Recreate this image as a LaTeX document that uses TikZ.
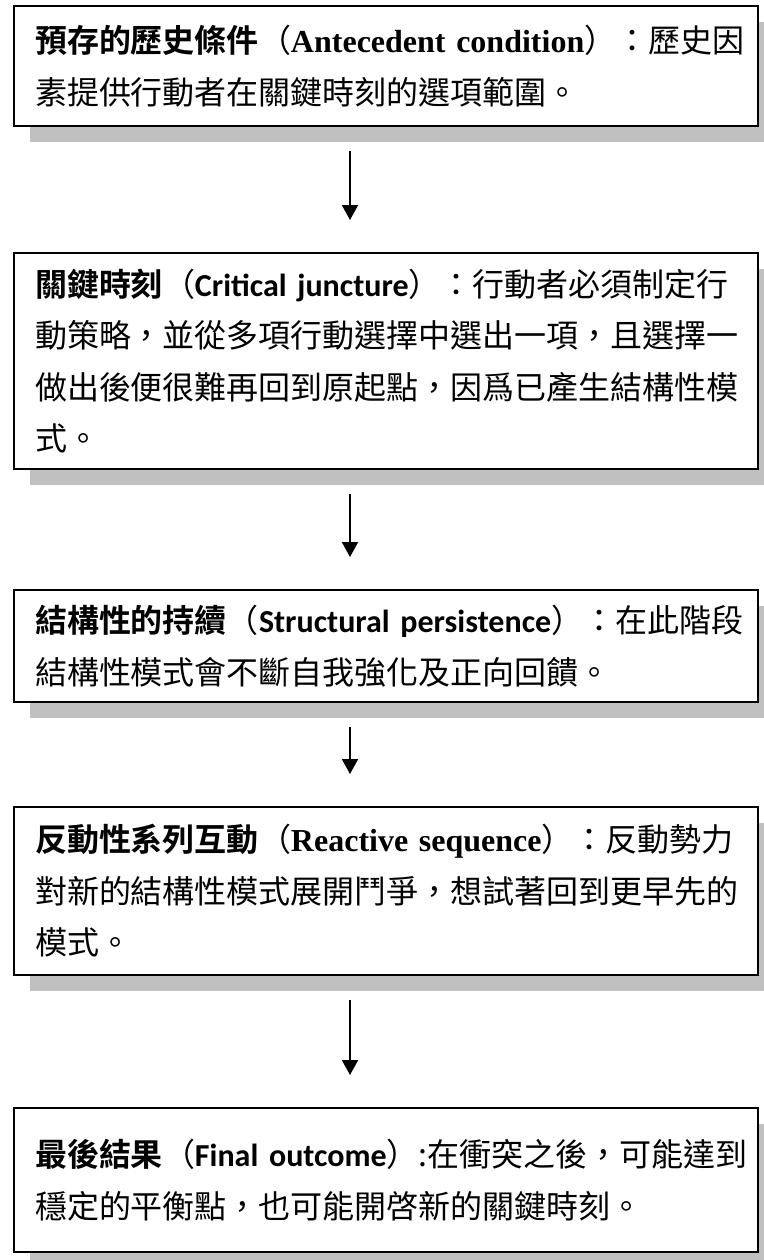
\documentclass[tikz,border=0pt]{standalone}
\usepackage{fontspec}
\setmainfont{Noto Sans CJK TC}[BoldFont={Noto Sans CJK TC Bold}]
\newfontfamily\latinserif{Liberation Serif}
\newfontfamily\latinsans{Carlito}
\usetikzlibrary{positioning,shadows,arrows.meta}
\definecolor{shadowgray}{RGB}{192,192,192}

\begin{document}
\begin{tikzpicture}[x=0.5pt,y=-0.5pt,
  stagebox/.style={draw=black, line width=1pt, fill=white, minimum width=372pt,
    text width=351pt, align=left, inner sep=0pt,
    font=\fontsize{16}{25.75}\selectfont,
    general shadow={fill=shadowgray, shadow xshift=8pt, shadow yshift=-8pt}},
  flowarrow/.style={-{Triangle[length=7.5pt,width=8pt]}, line width=1pt,
    shorten <=12pt, shorten >=16pt}]
  \useasboundingbox (0,0) rectangle (764,1260);

  % the five stages
  \node[stagebox, minimum height=60pt] (antecedent) at (386,66)
    {\mbox{{\bfseries 預存的歷史條件}（{\latinserif\bfseries Antecedent condition}）：歷史因}\\
     素提供行動者在關鍵時刻的選項範圍。};
  \node[stagebox, minimum height=108pt] (juncture) at (386,361)
    {\mbox{{\bfseries 關鍵時刻}（{\latinsans\bfseries Critical juncture}）：行動者必須制定行}\\
     動策略，並從多項行動選擇中選出一項，且選擇一\\
     做出後便很難再回到原起點，因爲已產生結構性模\\
     式。};
  \node[stagebox, minimum height=56pt] (persistence) at (386,646)
    {\mbox{{\bfseries 結構性的持續}（{\latinsans\bfseries Structural persistence}）：在此階段}\\
     結構性模式會不斷自我強化及正向回饋。};
  \node[stagebox, minimum height=84pt] (reactive) at (386,891)
    {\mbox{{\bfseries 反動性系列互動}（{\latinserif\bfseries Reactive sequence}）：反動勢力}\\
     對新的結構性模式展開鬥爭，想試著回到更早先的\\
     模式。};
  \node[stagebox, minimum height=72pt] (outcome) at (386,1180)
    {\mbox{{\bfseries 最後結果}（{\latinsans\bfseries Final outcome}）:在衝突之後，可能達到}\\
     穩定的平衡點，也可能開啓新的關鍵時刻。};

  % arrows between stages
  \draw[flowarrow] ([xshift=-18pt]antecedent.south) -- ([xshift=-18pt]juncture.north);
  \draw[flowarrow] ([xshift=-18pt]juncture.south) -- ([xshift=-18pt]persistence.north);
  \draw[flowarrow] ([xshift=-18pt]persistence.south) -- ([xshift=-18pt]reactive.north);
  \draw[flowarrow] ([xshift=-18pt]reactive.south) -- ([xshift=-18pt]outcome.north);
\end{tikzpicture}
\end{document}
